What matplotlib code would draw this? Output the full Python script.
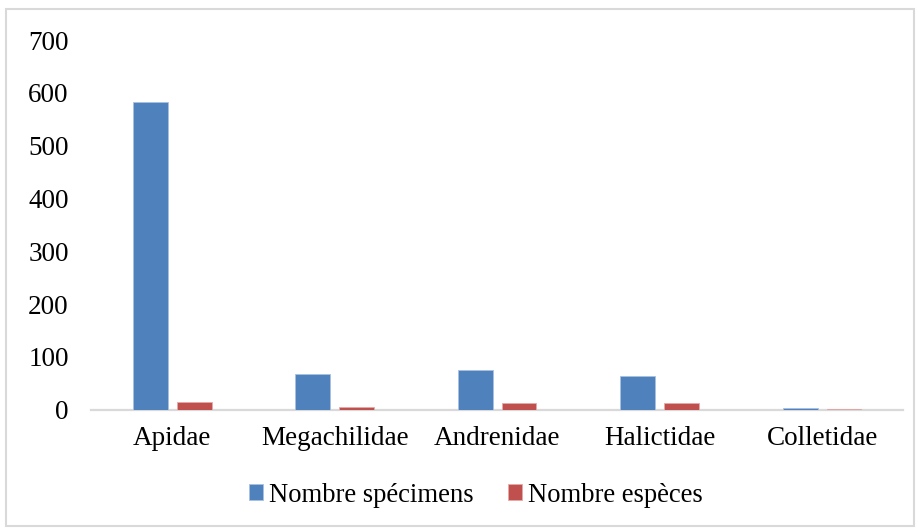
import matplotlib
matplotlib.use("Agg")
import matplotlib.pyplot as plt
from matplotlib.patches import Rectangle
import numpy as np

families = ["Apidae", "Megachilidae", "Andrenidae", "Halictidae", "Colletidae"]
specimens = [582, 68, 75, 64, 3]
especes = [14, 6, 13, 13, 1]
series_labels = ["Nombre spécimens", "Nombre espèces"]
y_ticks = [0, 100, 200, 300, 400, 500, 600, 700]

blue = "#4F81BD"
red = "#C0504D"

plt.rcParams["font.family"] = ["Liberation Serif", "DejaVu Serif"]

fig = plt.figure(figsize=(9.18, 5.28), dpi=100)
ax = fig.add_axes([0.099, 0.224, 0.885, 0.70])

x = np.arange(len(families))
w = 0.215
off = 0.135
ax.bar(x - off, specimens, w, color=blue, edgecolor="#A9C1E0", linewidth=0.6,
       label=series_labels[0], zorder=3)
ax.bar(x + off, especes, w, color=red, edgecolor="#E6A9A8", linewidth=0.6,
       label=series_labels[1], zorder=3)

ax.set_xlim(-0.5, len(families) - 0.5)
ax.set_ylim(0, 700)
ax.set_yticks(y_ticks)
ax.set_xticks(x)
ax.set_xticklabels(families)

for s in ["top", "right", "left"]:
    ax.spines[s].set_visible(False)
ax.spines["bottom"].set_color("#D9D9D9")
ax.spines["bottom"].set_linewidth(1.6)
ax.tick_params(axis="both", length=0, labelsize=19.5, colors="black")
ax.tick_params(axis="y", pad=16)
ax.tick_params(axis="x", pad=12)

leg = fig.legend(loc="center", bbox_to_anchor=(0.518, 0.062), ncol=2, frameon=False,
                 fontsize=19.2, handlelength=0.55, handleheight=0.55,
                 handletextpad=0.2, columnspacing=1.3, borderaxespad=0)

fig.patches.append(Rectangle((0.006, 0.004), 0.99, 0.979, transform=fig.transFigure,
                             fill=False, edgecolor="#D9D9D9", linewidth=1.5))

fig.savefig("out.png", dpi=100)
